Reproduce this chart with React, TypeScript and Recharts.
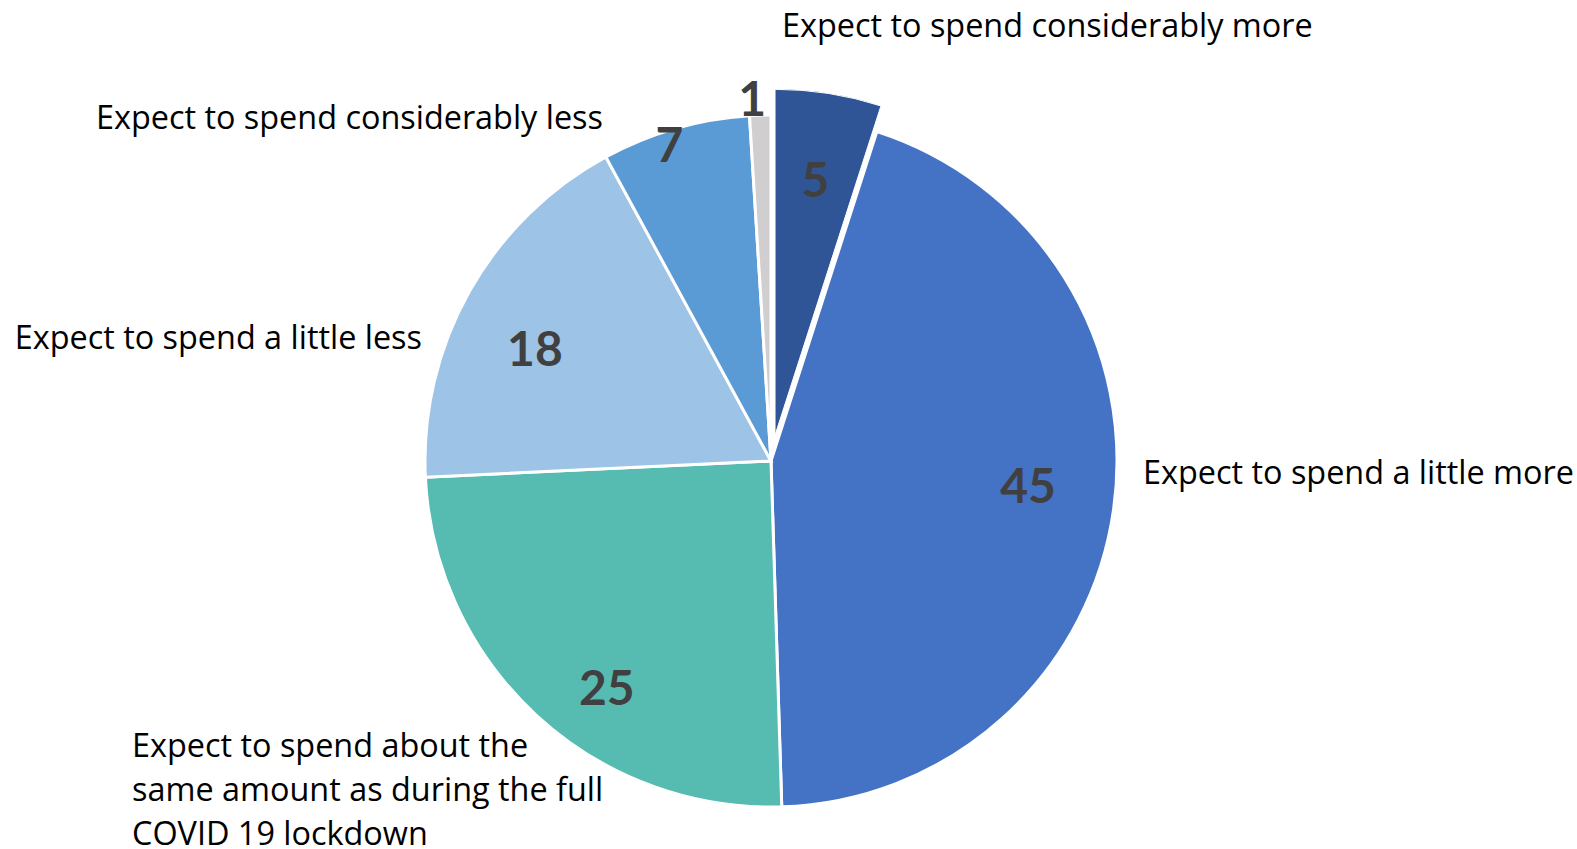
import { Cell, Pie, PieChart } from "recharts";

const categories = [
  "Expect to spend considerably more",
  "Expect to spend a little more",
  "Expect to spend about the same amount as during the full COVID 19 lockdown",
  "Expect to spend a little less",
  "Expect to spend considerably less",
  "1",
];
const shares = [5, 45, 25, 18, 7, 1];
const colors = ["#2F5597", "#4472C4", "#56BCB1", "#9DC3E6", "#5B9BD5", "#D0CECE"];

// category text lines
const nameLines: string[][] = [
  ["Expect to spend considerably more"],
  ["Expect to spend a little more"],
  ["Expect to spend about the", "same amount as during the full", "COVID 19 lockdown"],
  ["Expect to spend a little less"],
  ["Expect to spend considerably less"],
  [],
];
const namePos: [number, number, "start" | "end"][] = [
  [782, 24, "start"],
  [1143, 471, "start"],
  [132, 744, "start"],
  [422, 336, "end"],
  [603, 116, "end"],
  [0, 0, "start"],
];
// number label radius and angular nudge (degrees, clockwise)
const numR = [286, 258, 279, 262, 333, 364];
const numShift = [0, -2.9, -6.7, -3.7, -1.7, -1.2];

const data = categories.map((name, i) => ({ name, value: shares[i] }));

const CX = 766;
const CY = 456;
const R = 346;
const EXPLODE = 26;
const TEXT_FONT = "'Open Sans', sans-serif";
const NUM_FONT = "Lato, 'Open Sans', sans-serif";

const RAD = Math.PI / 180;

function renderLabel(props: any) {
  const { cx, cy, midAngle, index, value } = props;
  const a = (midAngle - numShift[index]) * RAD;
  const x = cx + numR[index] * Math.cos(a);
  const y = cy - numR[index] * Math.sin(a);
  const [nx, ny, anchor] = namePos[index];
  return (
    <g key={`lbl-${index}`}>
      <text
        x={x}
        y={y}
        textAnchor="middle"
        dominantBaseline="central"
        fill="#404040"
        fontFamily={NUM_FONT}
        fontWeight={700}
        fontSize={48}
      >
        {value}
      </text>
      {nameLines[index].map((line, k) => (
        <text
          key={k}
          x={nx}
          y={ny + k * 44}
          textAnchor={anchor}
          dominantBaseline="central"
          fill="#000"
          fontFamily={TEXT_FONT}
          fontSize={32.4}
        >
          {line}
        </text>
      ))}
    </g>
  );
}

export default function App() {
  const mid0 = ((shares[0] / shares.reduce((s, v) => s + v, 0)) * 360) / 2;
  const ex = CX + EXPLODE * Math.sin(mid0 * RAD);
  const ey = CY - EXPLODE * Math.cos(mid0 * RAD);
  return (
    <div style={{ position: "absolute", left: 0, top: 0, background: "#fff" }}>
      <PieChart width={1577} height={849}>
        <Pie
          data={data}
          dataKey="value"
          nameKey="name"
          cx={CX}
          cy={CY}
          outerRadius={R}
          startAngle={90}
          endAngle={-270}
          stroke="#fff"
          strokeWidth={3}
          label={renderLabel}
          labelLine={false}
          isAnimationActive={false}
        >
          {data.map((_, i) => (
            <Cell key={i} fill={i === 0 ? "none" : colors[i]} stroke={i === 0 ? "none" : "#fff"} />
          ))}
        </Pie>
        <Pie
          data={data}
          dataKey="value"
          nameKey="name"
          cx={ex}
          cy={ey}
          outerRadius={R}
          startAngle={90}
          endAngle={-270}
          stroke="none"
          label={false}
          labelLine={false}
          isAnimationActive={false}
        >
          {data.map((_, i) => (
            <Cell key={i} fill={i === 0 ? colors[0] : "none"} stroke={i === 0 ? "#fff" : "none"} />
          ))}
        </Pie>
      </PieChart>
    </div>
  );
}
